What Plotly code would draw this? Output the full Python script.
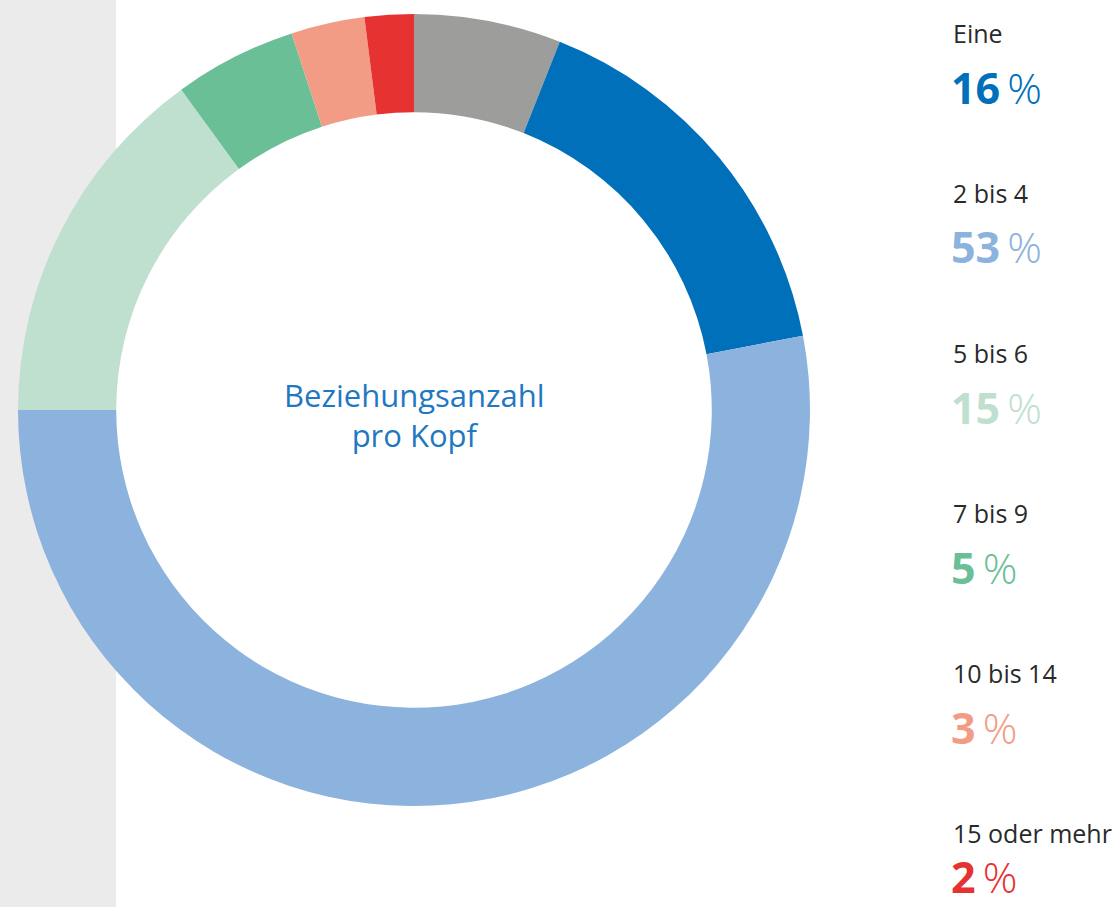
import plotly.graph_objects as go

# Data
categories = ["Keine Angabe", "Eine", "2 bis 4", "5 bis 6", "7 bis 9", "10 bis 14", "15 oder mehr"]
values = [6, 16, 53, 15, 5, 3, 2]
colors = ["#9d9d9c", "#0070ba", "#8cb2de", "#c0e0cf", "#6abf97", "#f39c85", "#e63331"]
center_title = "Beziehungsanzahl<br>pro Kopf"

W, H = 1119, 907
cx, cy, r = 414, 410, 396

fig = go.Figure()
fig.add_trace(go.Pie(
    labels=categories,
    values=values,
    marker=dict(colors=colors, line=dict(width=0)),
    hole=0.752,
    sort=False,
    direction="clockwise",
    rotation=0,
    textinfo="none",
    showlegend=False,
    domain=dict(x=[(cx - r) / W, (cx + r) / W], y=[1 - (cy + r) / H, 1 - (cy - r) / H]),
))

# grey band on the left
fig.add_shape(type="rect", xref="paper", yref="paper", x0=0, x1=116 / W, y0=0, y1=1,
              fillcolor="#ebebeb", line=dict(width=0), layer="below")

# centre text
fig.add_annotation(x=cx / W, y=1 - 415 / H, xref="paper", yref="paper", text=center_title,
                   showarrow=False, font=dict(family="Open Sans", size=31, color="#1f78c1"),
                   align="center", xanchor="center", yanchor="middle")

# legend column
n = len(categories) - 1
for i, (cat, val, col) in enumerate(zip(categories[1:], values[1:], colors[1:])):
    y_lab = 33 + 160 * i
    y_num = 87 + 160 * i
    fig.add_annotation(x=951 / W, y=1 - y_lab / H, xref="paper", yref="paper", text=cat,
                       showarrow=False, xanchor="left", yanchor="middle",
                       font=dict(family="Open Sans", size=25, color="#2a2a2a"))
    last = i == n - 1
    fig.add_annotation(x=950 / W, y=0 if last else 1 - y_num / H, xref="paper", yref="paper",
                       text=f"<b>{val}</b><span style='font-weight:300'>\u2009%</span>",
                       showarrow=False, xanchor="left", yanchor="bottom" if last else "middle",
                       borderpad=0,
                       font=dict(family="Open Sans", size=43, color=col))

fig.update_layout(width=W, height=H, margin=dict(l=0, r=0, t=0, b=0),
                  paper_bgcolor="white", plot_bgcolor="white")
fig.write_html("out.html", config={"displayModeBar": False},
               post_script="document.body.style.margin='0';document.body.style.overflow='hidden';")
